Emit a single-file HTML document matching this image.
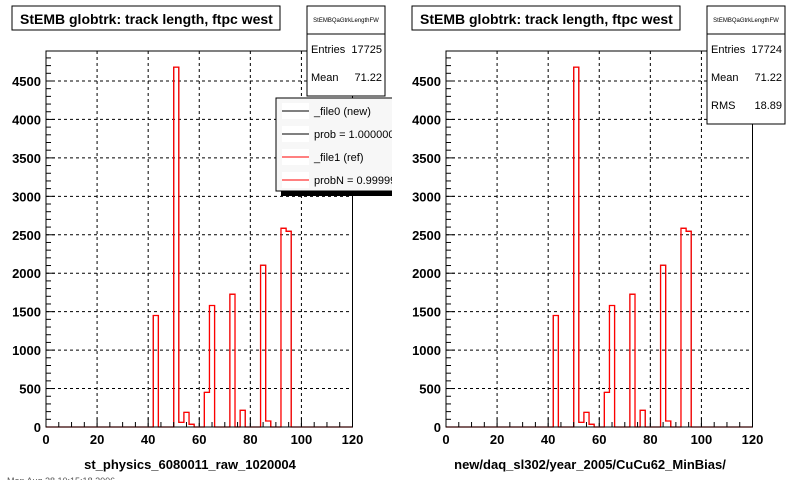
<!DOCTYPE html>
<html><head><meta charset="utf-8"><style>
html,body{margin:0;padding:0;background:#fff;}
svg{display:block;font-family:"Liberation Sans",Arial,sans-serif;}
</style></head><body>
<svg id="c" width="800" height="480" viewBox="0 0 800 480"></svg>
<script>
const binEdgesLo = [42,50,52,54,56,62,64,72,76,84,86,92,94];
const binValues = [1450,4680,60,190,35,450,1580,1727,217,2104,78,2584,2545];
const xTicks = [0,20,40,60,80,100,120];
const yTicks = [0,500,1000,1500,2000,2500,3000,3500,4000,4500];
const binWidth = 2;
const xMin=0,xMax=120,yMin=0,yMax=4890;
const NS='http://www.w3.org/2000/svg';
const svg=document.getElementById('c');
function mk(tag,attrs,parent,txt){const e=document.createElementNS(NS,tag);for(const k in attrs)e.setAttribute(k,attrs[k]);if(txt!==undefined)e.textContent=txt;(parent||svg).appendChild(e);return e;}

function panel(ox,idx,stats,xlabel,legend){
  const L=ox+46,R=ox+352.5,T=51,B=427;
  const X=v=>L+(v-xMin)/(xMax-xMin)*(R-L);
  const Y=v=>B-(v-yMin)/(yMax-yMin)*(B-T);
  const g=mk('g',{});
  
  
  xTicks.forEach(t=>{if(t>xMin&&t<xMax){const l=mk('line',{x1:X(t),x2:X(t),y1:T,y2:B,stroke:'#000','stroke-width':1,'stroke-dasharray':'3,3'},g);}});
  yTicks.forEach(t=>{if(t>yMin){const l=mk('line',{x1:L,x2:R,y1:Y(t),y2:Y(t),stroke:'#000','stroke-width':1,'stroke-dasharray':'3,3'},g);}});
  function histPath(){let d='M'+L+','+B;let prevHi=null;
    binEdgesLo.forEach((lo,i)=>{const hi=lo+binWidth;const y=Y(binValues[i]);
      if(prevHi!==null&&prevHi!==lo){d+=' L'+X(prevHi)+','+B+' L'+X(lo)+','+B;}else if(prevHi===null){d+=' L'+X(lo)+','+B;}
      d+=' L'+X(lo)+','+y+' L'+X(hi)+','+y;prevHi=hi;});
    d+=' L'+X(prevHi)+','+B+' L'+R+','+B;return d;}
  const hb=mk('path',{d:histPath(),fill:'none',stroke:'#000','stroke-width':1},g);
  
  
  const hr=mk('path',{d:histPath(),fill:'none',stroke:'#f00','stroke-width':1.3},g);
  
  
  const fr=mk('rect',{x:L,y:T,width:R-L,height:B-T,fill:'none',stroke:'#000','stroke-width':1},g);
  
  
  for(let v=xMin;v<=xMax;v+=5){const maj=v%20===0;mk('line',{x1:X(v),x2:X(v),y1:B,y2:B-(maj?9:5),stroke:'#000'},g);}
  xTicks.forEach(t=>{const e=mk('text',{x:X(t),y:B+17,'text-anchor':'middle','font-size':13,'font-weight':'bold'},g,String(t));});
  for(let v=0;v<=yMax;v+=100){const maj=v%500===0;mk('line',{x1:L,x2:L+(maj?9:5),y1:Y(v),y2:Y(v),stroke:'#000'},g);}
  yTicks.forEach(t=>{const e=mk('text',{x:L-5,y:Y(t)+5,'text-anchor':'end','font-size':13,'font-weight':'bold'},g,String(t));});
  const xl=mk('text',{x:ox+190,y:469,'text-anchor':'middle','font-size':13,'font-weight':'bold'},g,xlabel);
  
  
  const tb=mk('rect',{x:ox+12,y:6,width:268,height:24,fill:'#fff',stroke:'#000'},g);
  
  
  const tt=mk('text',{x:ox+20,y:24,'font-size':14,'font-weight':'bold'},g,'StEMB globtrk: track length, ftpc west');
  
  
  const sh=stats.length*28+34;
  const sb=mk('rect',{x:ox+307,y:6,width:78,height:sh,fill:'#fff',stroke:'#000'},g);
  
  
  mk('line',{x1:ox+307,x2:ox+385,y1:34,y2:34,stroke:'#000'},g);
  mk('text',{x:ox+346,y:22,'text-anchor':'middle','font-size':6},g,'StEMBQaGtrkLengthFW');
  stats.forEach((s,i)=>{const a=mk('text',{x:ox+311,y:53+i*28,'font-size':11},g,s[0]);
    const b=mk('text',{x:ox+382,y:53+i*28,'text-anchor':'end','font-size':11},g,s[1]);});
  if(legend){
    const cg=mk('g',{},g);
    const cp=mk('clipPath',{id:'lc'},svg);mk('rect',{x:0,y:0,width:392,height:480},cp);
    cg.setAttribute('clip-path','url(#lc)');
    
    
    mk('rect',{x:281,y:102,width:130,height:94,fill:'#000'},cg);
    mk('rect',{x:276,y:98,width:130,height:93,fill:'#f7f7f7',stroke:'#000'},cg);
    const items=[['_file0 (new)','#000'],['prob = 1.000000','#000'],['_file1 (ref)','#f00'],['probN = 0.999999','#f00']];
    items.forEach((it,i)=>{const y=111+i*23;
      mk('rect',{x:282,y:y-8,width:27,height:16,fill:'#fff'},cg);
      mk('line',{x1:282,x2:309,y1:y,y2:y,stroke:it[1],'stroke-width':1},cg);
      const t=mk('text',{x:314,y:y+4,'font-size':11},cg,it[0]);});
  }
}
panel(0,1,[['Entries','17725'],['Mean','71.22']],'st_physics_6080011_raw_1020004',true);
panel(400,2,[['Entries','17724'],['Mean','71.22'],['RMS','18.89']],'new/daq_sl302/year_2005/CuCu62_MinBias/',false);
const ft=mk('text',{x:7,y:484,'font-size':9,fill:'#555'},svg,'Mon Aug 28 10:15:18 2006');


</script>
</body></html>
